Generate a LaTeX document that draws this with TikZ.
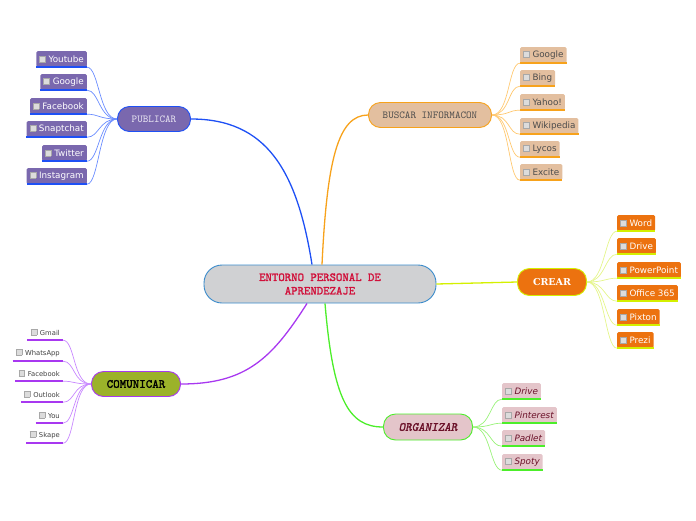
\documentclass[tikz,border=0pt]{standalone}
\usepackage{fontspec}
\setmainfont{DejaVu Sans}
\newfontfamily\slabfont{DejaVu Serif}
\newfontfamily\heavymono{lmmono10-regular.otf}[FakeBold=1.6]
\newfontfamily\heavyslantmono{lmmono10-regular.otf}[FakeBold=1.6, FakeSlant=0.2]

% Colours of the map
\definecolor{epaline}{HTML}{3A8BCB}
\definecolor{epafill}{HTML}{D0D1D3}
\definecolor{epatext}{HTML}{D0103A}
\definecolor{pubfill}{HTML}{7A68AE}
\definecolor{publine}{HTML}{1E50F5}
\definecolor{pubtwig}{HTML}{6A8CFF}
\definecolor{busfill}{HTML}{E3BF9F}
\definecolor{busline}{HTML}{F7A21B}
\definecolor{bustwig}{HTML}{FFC870}
\definecolor{crefill}{HTML}{EC720F}
\definecolor{creline}{HTML}{D4F000}
\definecolor{cretwig}{HTML}{E4F58A}
\definecolor{comfill}{HTML}{9BB22A}
\definecolor{comline}{HTML}{A838F0}
\definecolor{comtwig}{HTML}{C888FF}
\definecolor{orgfill}{HTML}{E4C5CA}
\definecolor{orgline}{HTML}{4CEE2A}
\definecolor{orgtwig}{HTML}{98F278}
\definecolor{orgtext}{HTML}{6A1028}
\definecolor{boxfill}{HTML}{DCDCDC}
\definecolor{boxedge}{HTML}{A8A8A8}

% Small tick box in front of every leaf
\newcommand{\tickbox}{{\setlength{\fboxsep}{0pt}\setlength{\fboxrule}{0.4pt}\raisebox{0.3pt}{\fcolorbox{boxedge}{boxfill}{\rule{0pt}{5.5pt}\rule{5.5pt}{0pt}}}}\hspace{3pt}}

\tikzset{
  central/.style={draw=epaline, fill=epafill, line width=0.9pt, rounded corners=18pt,
    minimum width=232pt, minimum height=38pt, align=center, text=epatext,
    font=\heavymono\fontsize{12.2}{13.5}\selectfont},
  topic/.style={line width=0.9pt, rounded corners=12pt, minimum height=25pt, inner sep=0pt},
  leaf/.style={rounded corners=1.5pt, minimum height=16pt, inner xsep=3pt, inner ysep=0pt,
    font=\fontsize{8.8}{9}\selectfont},
  plainleaf/.style={minimum height=16pt, inner xsep=3pt, inner ysep=0pt, text=black!75,
    font=\fontsize{6.8}{8}\selectfont},
  branch/.style={line width=1.3pt},
  twig/.style={line width=0.7pt},
  under/.style={line width=1.6pt}
}

\begin{document}
\begin{tikzpicture}[x=1pt, y=-1pt]
\useasboundingbox (0,0) rectangle (696,520);

% Central idea and main topics
\node[central] (epa) at (320,284) {ENTORNO PERSONAL DE\\APRENDEZAJE};
\node[topic, draw=publine, fill=pubfill, minimum width=73pt, text=white!85!pubfill,
  font=\ttfamily\fontsize{10.6}{11}\selectfont] (pub) at (154,119) {PUBLICAR};
\node[topic, draw=busline, fill=busfill, minimum width=123pt, text=black!70,
  font=\ttfamily\fontsize{10.6}{11}\selectfont] (bus) at (430,115) {BUSCAR INFORMACON};
\node[topic, draw=creline, fill=crefill, minimum width=69pt, minimum height=27pt, text=white,
  font=\slabfont\bfseries\fontsize{9.5}{11}\selectfont] (cre) at (552,282) {CREAR};
\node[topic, draw=comline, fill=comfill, minimum width=89pt, text=black,
  font=\heavymono\fontsize{12.4}{13}\selectfont] (com) at (136,384) {COMUNICAR};
\node[topic, draw=orgline, fill=orgfill, minimum width=89pt, minimum height=26pt, text=orgtext,
  font=\heavyslantmono\fontsize{12.4}{13}\selectfont] (org) at (428,427) {ORGANIZAR};

% Main branches
\draw[branch, publine] ([xshift=-8pt]epa.north) .. controls +(-15,-95) and +(75,0) .. (pub.east);
\draw[branch, busline] ([xshift=2pt]epa.north) .. controls +(5,-105) and +(-30,0) .. (bus.west);
\draw[branch, creline] (epa.east) -- (cre.west);
\draw[branch, comline] ([xshift=-13pt]epa.south) .. controls +(-35,55) and +(65,0) .. (com.east);
\draw[branch, orgline] ([xshift=5pt]epa.south) .. controls +(8,95) and +(-35,0) .. (org.west);

% PUBLICAR leaves
\node[leaf, fill=pubfill, text=white, anchor=east] (pub1) at (87,59) {\tickbox Youtube};
\node[leaf, fill=pubfill, text=white, anchor=east] (pub2) at (87,82) {\tickbox Google};
\node[leaf, fill=pubfill, text=white, anchor=east] (pub3) at (87,106) {\tickbox Facebook};
\node[leaf, fill=pubfill, text=white, anchor=east] (pub4) at (87,129) {\tickbox Snaptchat};
\node[leaf, fill=pubfill, text=white, anchor=east] (pub5) at (87,153) {\tickbox Twitter};
\node[leaf, fill=pubfill, text=white, anchor=east] (pub6) at (87,176) {\tickbox Instagram};
\draw[under, publine] (pub1.south west) -- (pub1.south east);
\draw[under, publine] (pub2.south west) -- (pub2.south east);
\draw[under, publine] (pub3.south west) -- (pub3.south east);
\draw[under, publine] (pub4.south west) -- (pub4.south east);
\draw[under, publine] (pub5.south west) -- (pub5.south east);
\draw[under, publine] (pub6.south west) -- (pub6.south east);
\draw[twig, pubtwig] (pub.west) .. controls +(-18,0) and +(12,0) .. (pub1.south east);
\draw[twig, pubtwig] (pub.west) .. controls +(-18,0) and +(12,0) .. (pub2.south east);
\draw[twig, pubtwig] (pub.west) .. controls +(-18,0) and +(12,0) .. (pub3.south east);
\draw[twig, pubtwig] (pub.west) .. controls +(-18,0) and +(12,0) .. (pub4.south east);
\draw[twig, pubtwig] (pub.west) .. controls +(-18,0) and +(12,0) .. (pub5.south east);
\draw[twig, pubtwig] (pub.west) .. controls +(-18,0) and +(12,0) .. (pub6.south east);

% BUSCAR INFORMACON leaves
\node[leaf, fill=busfill, text=black!70, anchor=west] (bus1) at (520,55) {\tickbox Google};
\node[leaf, fill=busfill, text=black!70, anchor=west] (bus2) at (520,78) {\tickbox Bing};
\node[leaf, fill=busfill, text=black!70, anchor=west] (bus3) at (520,102) {\tickbox Yahoo!};
\node[leaf, fill=busfill, text=black!70, anchor=west] (bus4) at (520,126) {\tickbox Wikipedia};
\node[leaf, fill=busfill, text=black!70, anchor=west] (bus5) at (520,149) {\tickbox Lycos};
\node[leaf, fill=busfill, text=black!70, anchor=west] (bus6) at (520,172) {\tickbox Excite};
\draw[under, busline] (bus1.south west) -- (bus1.south east);
\draw[under, busline] (bus2.south west) -- (bus2.south east);
\draw[under, busline] (bus3.south west) -- (bus3.south east);
\draw[under, busline] (bus4.south west) -- (bus4.south east);
\draw[under, busline] (bus5.south west) -- (bus5.south east);
\draw[under, busline] (bus6.south west) -- (bus6.south east);
\draw[twig, bustwig] (bus.east) .. controls +(18,0) and +(-12,0) .. (bus1.south west);
\draw[twig, bustwig] (bus.east) .. controls +(18,0) and +(-12,0) .. (bus2.south west);
\draw[twig, bustwig] (bus.east) .. controls +(18,0) and +(-12,0) .. (bus3.south west);
\draw[twig, bustwig] (bus.east) .. controls +(18,0) and +(-12,0) .. (bus4.south west);
\draw[twig, bustwig] (bus.east) .. controls +(18,0) and +(-12,0) .. (bus5.south west);
\draw[twig, bustwig] (bus.east) .. controls +(18,0) and +(-12,0) .. (bus6.south west);

% CREAR leaves
\node[leaf, fill=crefill, text=white, anchor=west] (cre1) at (617,223) {\tickbox Word};
\node[leaf, fill=crefill, text=white, anchor=west] (cre2) at (617,246) {\tickbox Drive};
\node[leaf, fill=crefill, text=white, anchor=west] (cre3) at (617,270) {\tickbox PowerPoint};
\node[leaf, fill=crefill, text=white, anchor=west] (cre4) at (617,293) {\tickbox Office 365};
\node[leaf, fill=crefill, text=white, anchor=west] (cre5) at (617,317) {\tickbox Pixton};
\node[leaf, fill=crefill, text=white, anchor=west] (cre6) at (617,340) {\tickbox Prezi};
\draw[under, creline] (cre1.south west) -- (cre1.south east);
\draw[under, creline] (cre2.south west) -- (cre2.south east);
\draw[under, creline] (cre3.south west) -- (cre3.south east);
\draw[under, creline] (cre4.south west) -- (cre4.south east);
\draw[under, creline] (cre5.south west) -- (cre5.south east);
\draw[under, creline] (cre6.south west) -- (cre6.south east);
\draw[twig, cretwig] (cre.east) .. controls +(18,0) and +(-12,0) .. (cre1.south west);
\draw[twig, cretwig] (cre.east) .. controls +(18,0) and +(-12,0) .. (cre2.south west);
\draw[twig, cretwig] (cre.east) .. controls +(18,0) and +(-12,0) .. (cre3.south west);
\draw[twig, cretwig] (cre.east) .. controls +(18,0) and +(-12,0) .. (cre4.south west);
\draw[twig, cretwig] (cre.east) .. controls +(18,0) and +(-12,0) .. (cre5.south west);
\draw[twig, cretwig] (cre.east) .. controls +(18,0) and +(-12,0) .. (cre6.south west);

% COMUNICAR leaves
\node[plainleaf, anchor=east] (com1) at (63,332) {\tickbox Gmail};
\node[plainleaf, anchor=east] (com2) at (63,353) {\tickbox WhatsApp};
\node[plainleaf, anchor=east] (com3) at (63,373) {\tickbox Facebook};
\node[plainleaf, anchor=east] (com4) at (63,394) {\tickbox Outlook};
\node[plainleaf, anchor=east] (com5) at (63,415) {\tickbox You};
\node[plainleaf, anchor=east] (com6) at (63,435) {\tickbox Skape};
\draw[under, comline] (com1.south west) -- (com1.south east);
\draw[under, comline] (com2.south west) -- (com2.south east);
\draw[under, comline] (com3.south west) -- (com3.south east);
\draw[under, comline] (com4.south west) -- (com4.south east);
\draw[under, comline] (com5.south west) -- (com5.south east);
\draw[under, comline] (com6.south west) -- (com6.south east);
\draw[twig, comtwig] (com.west) .. controls +(-18,0) and +(12,0) .. (com1.south east);
\draw[twig, comtwig] (com.west) .. controls +(-18,0) and +(12,0) .. (com2.south east);
\draw[twig, comtwig] (com.west) .. controls +(-18,0) and +(12,0) .. (com3.south east);
\draw[twig, comtwig] (com.west) .. controls +(-18,0) and +(12,0) .. (com4.south east);
\draw[twig, comtwig] (com.west) .. controls +(-18,0) and +(12,0) .. (com5.south east);
\draw[twig, comtwig] (com.west) .. controls +(-18,0) and +(12,0) .. (com6.south east);

% ORGANIZAR leaves
\node[leaf, fill=orgfill, text=orgtext, font=\itshape\fontsize{8.8}{9}\selectfont, anchor=west] (org1) at (502,391) {\tickbox Drive};
\node[leaf, fill=orgfill, text=orgtext, font=\itshape\fontsize{8.8}{9}\selectfont, anchor=west] (org2) at (502,415) {\tickbox Pinterest};
\node[leaf, fill=orgfill, text=orgtext, font=\itshape\fontsize{8.8}{9}\selectfont, anchor=west] (org3) at (502,438) {\tickbox Padlet};
\node[leaf, fill=orgfill, text=orgtext, font=\itshape\fontsize{8.8}{9}\selectfont, anchor=west] (org4) at (502,462) {\tickbox Spoty};
\draw[under, orgline] (org1.south west) -- (org1.south east);
\draw[under, orgline] (org2.south west) -- (org2.south east);
\draw[under, orgline] (org3.south west) -- (org3.south east);
\draw[under, orgline] (org4.south west) -- (org4.south east);
\draw[twig, orgtwig] (org.east) .. controls +(18,0) and +(-12,0) .. (org1.south west);
\draw[twig, orgtwig] (org.east) .. controls +(18,0) and +(-12,0) .. (org2.south west);
\draw[twig, orgtwig] (org.east) .. controls +(18,0) and +(-12,0) .. (org3.south west);
\draw[twig, orgtwig] (org.east) .. controls +(18,0) and +(-12,0) .. (org4.south west);
\end{tikzpicture}
\end{document}
